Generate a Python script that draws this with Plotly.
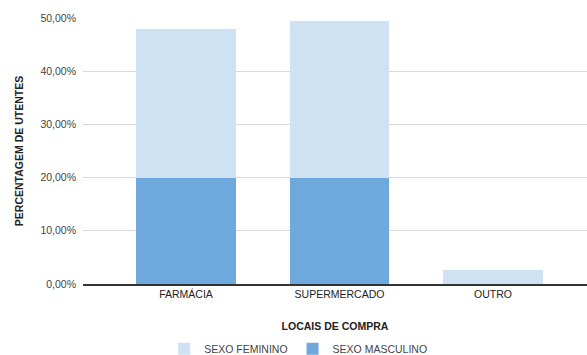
import plotly.graph_objects as go

# Purchase locations and share of users (%) by sex
locais = ["FARMÁCIA", "SUPERMERCADO", "OUTRO"]
sexo_masculino = [20.0, 20.0, 0.0]
sexo_feminino = [28.0, 29.4, 2.7]
y_ticks = [0, 10, 20, 30, 40, 50]
y_tick_labels = ["0,00%", "10,00%", "20,00%", "30,00%", "40,00%", "50,00%"]

COR_FEM = "#cfe2f3"
COR_MASC = "#6fa8dc"
FONT = "Liberation Sans, Arial, sans-serif"
FS = 10.5

fig = go.Figure()
fig.add_trace(go.Bar(
    x=locais, y=sexo_masculino, name="SEXO MASCULINO",
    marker=dict(color=COR_MASC, line=dict(width=0)), width=0.65,
))
fig.add_trace(go.Bar(
    x=locais, y=sexo_feminino, name="SEXO FEMININO",
    marker=dict(color=COR_FEM, line=dict(width=0)), width=0.65,
))

fig.update_layout(
    width=587, height=355,
    barmode="stack",
    plot_bgcolor="white", paper_bgcolor="white",
    margin=dict(l=83, r=0, t=18, b=71, autoexpand=False),
    font=dict(family=FONT, size=FS, color="#444444"),
    legend=dict(
        orientation="h", traceorder="reversed",
        x=0.161, xanchor="left", y=-0.243, yanchor="middle",
        font=dict(size=FS, color="#444444"),
        itemwidth=30,
    ),
    xaxis=dict(
        type="category", range=[-0.671, 2.612],
        showgrid=False, showline=True, linecolor="#333333", linewidth=1.5,
        tickfont=dict(size=FS, color="#222222"),
        ticks="", ticklen=0,
        title=dict(text="<b>LOCAIS DE COMPRA</b>", font=dict(size=FS, color="#222222"), standoff=23),
    ),
    yaxis=dict(
        range=[0, 50], tickvals=y_ticks, ticktext=y_tick_labels,
        showgrid=True, gridcolor="#d9d9d9", gridwidth=1,
        zeroline=False, ticks="", ticklabelstandoff=6,
        tickfont=dict(size=FS, color="#444444"),
        title=dict(text="<b>PERCENTAGEM DE UTENTES</b>", font=dict(size=FS, color="#222222"), standoff=14),
    ),
)

fig.write_html("out.html")
